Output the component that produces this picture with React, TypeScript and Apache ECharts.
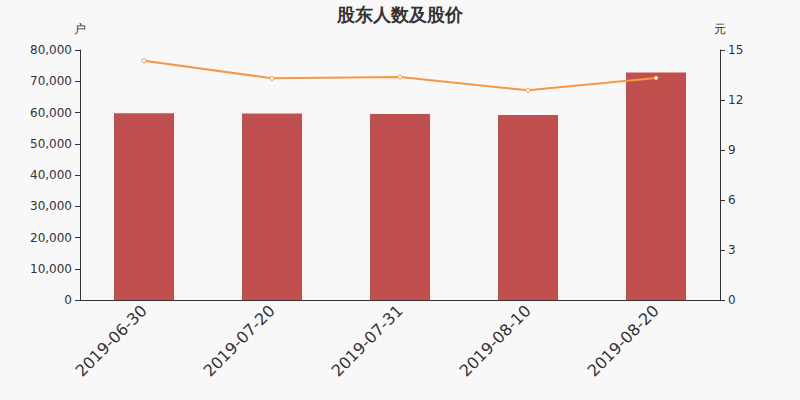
import React, { useEffect, useRef } from 'react';
import * as echarts from 'echarts';

const dates = ['2019-06-30', '2019-07-20', '2019-07-31', '2019-08-10', '2019-08-20'];
const holders = [59800, 59700, 59500, 59200, 72800];
const prices = [14.36, 13.3, 13.38, 12.58, 13.32];

const App: React.FC = () => {
  const chartRef = useRef<HTMLDivElement>(null);

  useEffect(() => {
    const chart = echarts.init(chartRef.current!, null, { renderer: 'svg' });
    const axisColor = '#333';

    chart.setOption({
      animation: false,
      backgroundColor: '#f8f8f8',
      textStyle: { fontFamily: 'DejaVu Sans' },
      title: {
        text: '股东人数及股价',
        left: 'center',
        top: 0,
        textStyle: { fontSize: 18, fontWeight: 'bold', color: '#333' },
      },
      grid: { left: 80, right: 80, top: 50, bottom: 100 },
      xAxis: {
        type: 'category',
        data: dates,
        axisLine: { lineStyle: { color: axisColor } },
        axisTick: { alignWithLabel: false, length: 5 },
        axisLabel: { rotate: 45, fontSize: 16, color: axisColor, margin: 8 },
      },
      yAxis: [
        {
          type: 'value',
          name: '户',
          min: 0,
          max: 80000,
          interval: 10000,
          nameGap: 15,
          nameTextStyle: { color: axisColor, fontSize: 12, align: 'center' },
          axisLine: { show: true, lineStyle: { color: axisColor } },
          axisTick: { show: true },
          splitLine: { show: false },
          axisLabel: { color: axisColor, fontSize: 12 },
        },
        {
          type: 'value',
          name: '元',
          min: 0,
          max: 15,
          interval: 3,
          nameGap: 15,
          nameTextStyle: { color: axisColor, fontSize: 12, align: 'center' },
          axisLine: { show: true, lineStyle: { color: axisColor } },
          axisTick: { show: true },
          splitLine: { show: false },
          axisLabel: { color: axisColor, fontSize: 12 },
        },
      ],
      series: [
        {
          name: '股东人数',
          type: 'bar',
          data: holders,
          barWidth: 60,
          itemStyle: { color: '#c0504d' },
        },
        {
          name: '股价',
          type: 'line',
          yAxisIndex: 1,
          data: prices,
          symbol: 'circle',
          symbolSize: 4,
          lineStyle: { color: '#f79646', width: 2 },
          itemStyle: { color: '#fff', borderColor: '#f79646', borderWidth: 1 },
        },
      ],
    });

    return () => {
      chart.dispose();
    };
  }, []);

  return (
    <div
      ref={chartRef}
      style={{ position: 'absolute', left: 0, top: 0, width: '800px', height: '400px' }}
    />
  );
};

export default App;
